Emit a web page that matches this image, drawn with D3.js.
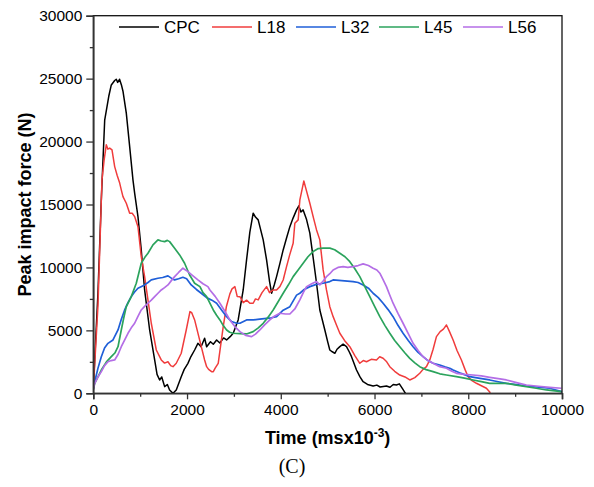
<!DOCTYPE html>
<html>
<head>
<meta charset="utf-8">
<script src="https://cdn.jsdelivr.net/npm/d3@7"></script>
<style>
  body { margin: 0; background: #fff; }
  svg { display: block; font-family: "Liberation Sans", Arial, sans-serif; }
</style>
</head>
<body>
<div id="chart"></div>
<script>
// values: [time, force]
let seriesNames = ["CPC", "L18", "L32", "L45", "L56"];
let seriesColors = ["#000000", "#f03c3c", "#1f5fd8", "#2ba35c", "#b46ee6"];

let cpc = [
    [0, 400], [100, 8000], [171, 15400], [243, 21700], [330, 23600], [384, 24500], [456, 24850],
    [490, 24950], [520, 24700], [560, 24950], [600, 24500], [633, 24000], [704, 22260], [776, 19600],
    [846, 16960], [882, 15900], [953, 14040], [1023, 11390], [1095, 8210], [1202, 5030], [1309, 2650],
    [1360, 1500], [1415, 1060], [1460, 1300], [1522, 530], [1580, 700], [1628, 260], [1700, 0],
    [1770, 260], [1876, 1320], [1940, 1900], [2019, 2380], [2080, 2900], [2162, 3440], [2232, 3970],
    [2300, 3700], [2375, 4370], [2418, 3700], [2500, 4100], [2560, 3900], [2631, 4240], [2700, 4000],
    [2780, 4400], [2844, 4240], [2920, 4500], [2985, 4770], [3091, 5830], [3198, 8210], [3270, 10600],
    [3340, 12800], [3411, 14310], [3460, 14000], [3518, 13780], [3625, 12190], [3697, 10600],
    [3760, 8900], [3804, 7950], [3860, 8600], [3910, 9270], [3980, 10300], [4051, 11390],
    [4120, 12300], [4194, 13240], [4260, 13900], [4337, 14570], [4386, 14890], [4430, 14400],
    [4477, 14570], [4550, 13800], [4620, 12720], [4690, 10800], [4763, 8745], [4833, 6620],
    [4904, 5565], [4940, 5030], [5000, 4100], [5046, 3440], [5100, 3300], [5153, 3180], [5200, 3500],
    [5260, 3710], [5330, 3900], [5402, 3710], [5460, 3300], [5509, 2910], [5616, 1850], [5690, 1300],
    [5757, 920], [5850, 700], [5970, 580], [6050, 650], [6120, 500], [6255, 580], [6330, 480],
    [6400, 700], [6468, 660], [6530, 750], [6600, 350], [6660, 0]
];
let l18 = [
    [0, 300], [100, 7000], [185, 16950], [230, 18500], [277, 19740], [310, 19400], [350, 19480],
    [399, 19340], [456, 18010], [510, 17300], [563, 16700], [597, 16160], [633, 15630], [704, 15100],
    [776, 14310], [830, 14300], [882, 14040], [953, 13240], [1023, 10860], [1095, 9270], [1166, 7420],
    [1237, 5565], [1344, 3440], [1450, 2650], [1520, 2400], [1593, 2510], [1650, 2200], [1700, 2115],
    [1770, 2385], [1876, 3180], [1983, 5030], [2062, 6490], [2100, 6400], [2162, 5830], [2268, 4240],
    [2375, 2650], [2418, 2115], [2460, 1900], [2524, 1720], [2560, 1720], [2600, 2000], [2665, 2385],
    [2772, 5300], [2840, 6900], [2914, 7900], [2960, 8300], [3021, 8475], [3070, 7700], [3128, 7680],
    [3200, 7200], [3270, 7400], [3341, 7155], [3411, 7155], [3460, 7500], [3518, 7420], [3600, 8000],
    [3697, 8475], [3760, 8000], [3838, 8210], [3910, 8210], [3980, 8475], [4051, 9000],
    [4123, 10060], [4190, 11000], [4264, 11925], [4300, 13515], [4371, 13780], [4407, 15370],
    [4460, 16300], [4492, 16870], [4540, 16200], [4620, 15100], [4700, 13900], [4763, 12980],
    [4833, 12190], [4904, 9800], [4975, 8210], [5046, 6880], [5117, 6090], [5190, 5400], [5260, 4770],
    [5360, 4200], [5473, 3700], [5580, 3000], [5686, 2385], [5760, 2600], [5829, 2510], [5930, 2700],
    [6042, 2650], [6110, 2900], [6183, 2780], [6260, 2500], [6326, 2115], [6430, 1750], [6539, 1450],
    [6650, 1300], [6752, 1060], [6860, 1250], [6965, 1590], [7036, 1900], [7108, 2115], [7179, 2650],
    [7250, 3500], [7321, 4500], [7400, 4900], [7470, 5100], [7535, 5430], [7600, 4900], [7677, 4240],
    [7760, 3400], [7854, 2650], [7930, 1900], [7996, 1320], [8080, 1000], [8174, 795], [8280, 600],
    [8387, 400], [8472, 50]
];
let l32 = [
    [0, 400], [30, 920], [100, 2000], [171, 2910], [240, 3600], [313, 3970], [420, 4240], [527, 5030],
    [600, 5900], [669, 6620], [740, 7200], [810, 7680], [880, 8050], [953, 8350], [1095, 8610],
    [1166, 8800], [1237, 9010], [1379, 9140], [1480, 9200], [1593, 9330], [1665, 9150], [1735, 9010],
    [1820, 9100], [1912, 9220], [1991, 9100], [2089, 8610], [2200, 8250], [2303, 7950], [2418, 7600],
    [2530, 7400], [2631, 7155], [2740, 6600], [2844, 6090], [2950, 5700], [3057, 5565], [3128, 5565],
    [3270, 5830], [3411, 5830], [3550, 5900], [3697, 5960], [3800, 6000], [3910, 6090], [4051, 6600],
    [4194, 6885], [4337, 7800], [4407, 7950], [4500, 8250], [4620, 8475], [4760, 8650], [4904, 8745],
    [5046, 8875], [5117, 9010], [5300, 8950], [5543, 8875], [5650, 8800], [5757, 8610], [5870, 8350],
    [5970, 7950], [6080, 7600], [6183, 7155], [6290, 6650], [6396, 6090], [6500, 5400], [6609, 4770],
    [6720, 4200], [6823, 3700], [6930, 3250], [7036, 2910], [7140, 2600], [7249, 2385], [7392, 2250],
    [7500, 2100], [7605, 1990], [7677, 1850], [7850, 1580], [8031, 1320], [8250, 1180], [8458, 1060],
    [8640, 920], [8813, 795], [9030, 690], [9240, 580], [9500, 480], [9737, 400], [9870, 260],
    [10000, 130]
];
let l45 = [
    [0, 300], [30, 795], [171, 1850], [280, 2500], [384, 2910], [460, 3200], [527, 3700], [597, 5030],
    [650, 6000], [704, 6885], [810, 7680], [917, 8745], [1023, 10330], [1100, 10800], [1166, 11130],
    [1273, 11790], [1379, 12190], [1450, 12100], [1522, 12050], [1580, 12150], [1628, 12050],
    [1735, 11530], [1842, 10995], [1948, 10330], [2055, 9400], [2162, 8745], [2275, 8475],
    [2340, 8000], [2418, 7680], [2490, 7150], [2560, 6620], [2630, 6200], [2701, 5830], [2770, 5400],
    [2844, 5030], [2910, 4850], [2985, 4770], [3128, 4740], [3270, 4715], [3411, 4900], [3520, 5200],
    [3625, 5565], [3730, 6050], [3838, 6620], [3940, 7250], [4051, 7950], [4160, 8600], [4264, 9270],
    [4370, 9800], [4477, 10330], [4580, 10850], [4691, 11260], [4800, 11500], [4904, 11530],
    [5046, 11530], [5150, 11400], [5260, 11130], [5370, 10850], [5473, 10460], [5580, 9900],
    [5686, 9270], [5790, 8500], [5899, 7680], [6010, 6850], [6113, 6090], [6220, 5400], [6326, 4770],
    [6430, 4200], [6539, 3700], [6650, 3200], [6752, 2780], [6860, 2420], [6965, 2115], [7100, 1880],
    [7249, 1720], [7392, 1550], [7535, 1455], [7748, 1320], [7920, 1200], [8102, 1060], [8280, 930],
    [8458, 795], [8813, 795], [9030, 650], [9240, 530], [9450, 400], [9666, 265], [9987, 130]
];
let l56 = [
    [0, 300], [30, 795], [100, 1300], [171, 1720], [240, 2200], [313, 2510], [380, 2600], [456, 2650],
    [530, 3100], [597, 3700], [670, 4250], [740, 4770], [810, 5200], [882, 5565], [950, 6100],
    [1023, 6620], [1095, 6900], [1166, 7155], [1237, 7400], [1309, 7680], [1380, 7950], [1450, 8210],
    [1520, 8400], [1593, 8610], [1665, 8950], [1735, 9270], [1820, 9600], [1912, 9940], [2019, 9670],
    [2120, 9350], [2232, 9010], [2340, 8700], [2445, 8475], [2488, 8210], [2600, 7700], [2701, 7155],
    [2810, 6500], [2914, 5830], [3020, 5300], [3128, 4900], [3250, 4600], [3377, 4500], [3460, 4700],
    [3554, 5030], [3660, 5450], [3767, 5830], [3870, 6150], [3980, 6360], [4100, 6300], [4194, 6300],
    [4300, 6700], [4407, 7420], [4480, 8000], [4550, 8475], [4660, 8700], [4763, 8875], [4833, 8610],
    [4900, 8900], [4975, 9270], [5046, 9500], [5117, 9800], [5220, 10000], [5331, 10065],
    [5430, 10000], [5543, 10065], [5650, 10150], [5757, 10280], [5870, 10150], [5970, 9940],
    [6050, 9800], [6113, 9540], [6180, 9050], [6255, 8475], [6320, 7850], [6396, 7155], [6500, 6350],
    [6609, 5565], [6720, 4750], [6823, 3975], [6930, 3400], [7036, 2910], [7140, 2600], [7249, 2385],
    [7392, 2115], [7535, 1990], [7650, 1750], [7748, 1590], [7920, 1500], [8102, 1455], [8280, 1380],
    [8458, 1270], [8640, 1170], [8813, 1060], [9030, 850], [9240, 660], [9500, 560], [9737, 475],
    [9987, 400]
];
let seriesData = [cpc, l18, l32, l45, l56];

let xTicks = [0, 2000, 4000, 6000, 8000, 10000];
let yTicks = [0, 5000, 10000, 15000, 20000, 25000, 30000];

let width = 594;
let height = 487;
let margin = { top: 15.7, right: 32, bottom: 93.7, left: 93.3 };

let svg = d3.select("#chart").append("svg")
    .attr("width", width)
    .attr("height", height);

let x = d3.scaleLinear()
    .domain([0, 10000])
    .range([margin.left, width - margin.right]);

let y = d3.scaleLinear()
    .domain([0, 30000])
    .range([height - margin.bottom, margin.top]);

svg.append("defs").append("clipPath")
    .attr("id", "plot-clip")
    .append("rect")
    .attr("x", x(0))
    .attr("y", y(30000))
    .attr("width", x(10000) - x(0))
    .attr("height", y(0) - y(30000));

// series lines
let line = d3.line()
    .x(d => x(d[0]))
    .y(d => y(d[1]));

let gLines = svg.append("g").attr("clip-path", "url(#plot-clip)");
seriesData.forEach((data, i) => {
    gLines.append("path")
        .datum(data)
        .attr("fill", "none")
        .attr("stroke", seriesColors[i])
        .attr("stroke-width", i >= 2 ? 1.7 : 1.5)
        .attr("stroke-linejoin", "round")
        .attr("d", line);
});

// frame
svg.append("rect")
    .attr("x", x(0))
    .attr("y", y(30000))
    .attr("width", x(10000) - x(0))
    .attr("height", y(0) - y(30000))
    .attr("fill", "none")
    .attr("stroke", "#111")
    .attr("stroke-width", 1.3);

// x axis
svg.append("g")
    .attr("transform", `translate(0,${y(0)})`)
    .call(d3.axisBottom(x).tickValues(xTicks).tickSize(6).tickPadding(5).tickFormat(d3.format("d")));
svg.append("g")
    .attr("transform", `translate(0,${y(0)})`)
    .call(d3.axisBottom(x).tickValues(d3.range(1000, 10000, 2000)).tickSize(3.5).tickFormat(""))
    .select(".domain").remove();

// y axis
svg.append("g")
    .attr("transform", `translate(${x(0)},0)`)
    .call(d3.axisLeft(y).tickValues(yTicks).tickSize(7).tickPadding(4).tickFormat(d3.format("d")));
svg.append("g")
    .attr("transform", `translate(${x(0)},0)`)
    .call(d3.axisLeft(y).tickValues(d3.range(2500, 30000, 5000)).tickSize(3.5).tickFormat(""))
    .select(".domain").remove();

svg.selectAll(".domain").attr("stroke", "#333").attr("stroke-width", 1.6);
svg.selectAll(".tick line").attr("stroke", "#333").attr("stroke-width", 1.3);
svg.selectAll(".tick text")
    .attr("fill", "#000")
    .style("font-family", "'Liberation Sans', Arial, sans-serif")
    .style("font-size", "15.5px");

// axis titles
svg.append("text")
    .attr("x", (x(0) + x(10000)) / 2)
    .attr("y", 444)
    .attr("text-anchor", "middle")
    .style("font-size", "18px")
    .style("font-weight", "bold")
    .text("Time (msx10")
    .append("tspan")
    .attr("dy", -7)
    .style("font-size", "12px")
    .text("-3")
    .clone(true)
    .attr("dy", 7)
    .style("font-size", "18px")
    .text(")");

svg.append("text")
    .attr("transform", `translate(31,${(y(0) + y(30000)) / 2}) rotate(-90)`)
    .attr("text-anchor", "middle")
    .style("font-size", "18px")
    .style("font-weight", "bold")
    .text("Peak impact force (N)");

svg.append("text")
    .attr("x", 292)
    .attr("y", 473)
    .attr("text-anchor", "middle")
    .style("font-family", "'Liberation Serif', 'Times New Roman', serif")
    .style("font-size", "20px")
    .text("(C)");

// legend
let legendX = [119, 212, 296, 379, 463];
let legend = svg.append("g");
seriesNames.forEach((name, i) => {
    legend.append("line")
        .attr("x1", legendX[i])
        .attr("x2", legendX[i] + 40)
        .attr("y1", 27)
        .attr("y2", 27)
        .attr("stroke", seriesColors[i])
        .attr("stroke-width", 1.4);
    legend.append("text")
        .attr("x", legendX[i] + 45)
        .attr("y", 33)
        .style("font-size", "17px")
        .text(name);
});
</script>
</body>
</html>
